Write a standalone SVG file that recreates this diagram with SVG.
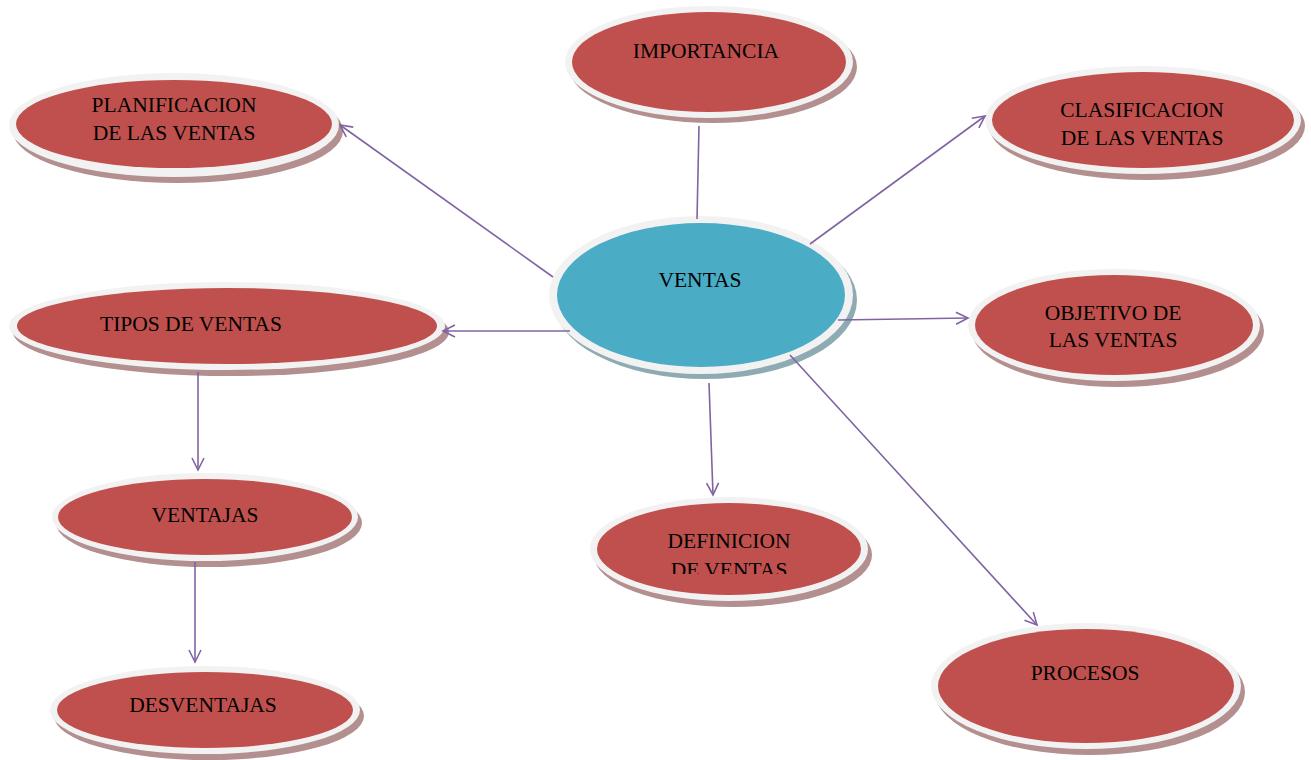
<svg xmlns="http://www.w3.org/2000/svg" width="1311" height="760" viewBox="0 0 1311 760">
<style>
.shr{fill:#b38f8f}
.shb{fill:#8eabb3}
.ring{fill:#f2f2f2}
.red{fill:#c0504d}
.blue{fill:#4bacc6}
.t{font-family:"Liberation Serif","Times New Roman",serif;font-size:21.5px;fill:#000;text-anchor:middle}
.c{stroke:#8064a2;stroke-width:1.6;fill:none}
</style>
<defs>
<marker id="arr" markerUnits="userSpaceOnUse" markerWidth="16" markerHeight="16" refX="13" refY="7" orient="auto">
<path d="M1,1 L13,7 L1,13" fill="none" stroke="#8064a2" stroke-width="1.6"/>
</marker>
<clipPath id="clipDef"><rect x="590" y="500" width="280" height="74"/></clipPath>
</defs>
<rect width="1311" height="760" fill="#fff"/>

<g id="importancia">
<ellipse class="shr" cx="713" cy="67" rx="144" ry="56"/>
<ellipse class="ring" cx="709" cy="62" rx="144" ry="56"/>
<ellipse class="red" cx="709" cy="62" rx="137" ry="50"/>
<text class="t" x="706" y="58">IMPORTANCIA</text>
</g>

<g id="planificacion">
<ellipse class="shr" cx="178" cy="131" rx="165" ry="52"/>
<ellipse class="ring" cx="174" cy="125" rx="165" ry="52"/>
<ellipse class="red" cx="174" cy="124" rx="158" ry="44"/>
<text class="t" x="174" y="112">PLANIFICACION</text>
<text class="t" x="174" y="140">DE LAS VENTAS</text>
</g>

<g id="clasificacion">
<ellipse class="shr" cx="1147" cy="126" rx="158" ry="54"/>
<ellipse class="ring" cx="1143" cy="120" rx="158" ry="54"/>
<ellipse class="red" cx="1143" cy="120" rx="151" ry="48"/>
<text class="t" x="1142" y="117">CLASIFICACION</text>
<text class="t" x="1142" y="145">DE LAS VENTAS</text>
</g>

<g id="ventas">
<ellipse class="shb" cx="705" cy="300" rx="152" ry="79"/>
<ellipse class="ring" cx="701" cy="295" rx="152" ry="79"/>
<ellipse class="blue" cx="701" cy="295" rx="144" ry="72"/>
<text class="t" x="700" y="287">VENTAS</text>
</g>

<g id="tipos">
<ellipse class="shr" cx="231" cy="332" rx="218" ry="44"/>
<ellipse class="ring" cx="227" cy="326" rx="218" ry="44"/>
<ellipse class="red" cx="227" cy="326" rx="210" ry="38"/>
<text class="t" x="100" y="331" style="text-anchor:start">TIPOS DE VENTAS</text>
</g>

<g id="objetivo">
<ellipse class="shr" cx="1118" cy="331" rx="146" ry="56"/>
<ellipse class="ring" cx="1114" cy="325" rx="146" ry="56"/>
<ellipse class="red" cx="1114" cy="325" rx="139" ry="50"/>
<text class="t" x="1113" y="320">OBJETIVO DE</text>
<text class="t" x="1113" y="347">LAS VENTAS</text>
</g>

<g id="ventajas">
<ellipse class="shr" cx="209" cy="523" rx="153" ry="44"/>
<ellipse class="ring" cx="205" cy="517" rx="153" ry="44"/>
<ellipse class="red" cx="205" cy="517" rx="147" ry="38"/>
<text class="t" x="205" y="522">VENTAJAS</text>
</g>

<g id="definicion">
<ellipse class="shr" cx="733" cy="555" rx="139" ry="52"/>
<ellipse class="ring" cx="729" cy="549" rx="139" ry="52"/>
<ellipse class="red" cx="729" cy="549" rx="132" ry="46"/>
<g clip-path="url(#clipDef)">
<text class="t" x="729" y="548">DEFINICION</text>
<text class="t" x="729" y="577">DE VENTAS</text>
</g>
</g>

<g id="procesos">
<ellipse class="shr" cx="1090" cy="692" rx="155" ry="63"/>
<ellipse class="ring" cx="1086" cy="686" rx="155" ry="63"/>
<ellipse class="red" cx="1086" cy="686" rx="148" ry="57"/>
<text class="t" x="1085" y="680">PROCESOS</text>
</g>

<g id="desventajas">
<ellipse class="shr" cx="209" cy="716" rx="155" ry="44"/>
<ellipse class="ring" cx="205" cy="710" rx="155" ry="44"/>
<ellipse class="red" cx="205" cy="710" rx="148" ry="38"/>
<text class="t" x="203" y="712">DESVENTAJAS</text>
</g>

<g id="connectors">
<line class="c" x1="553" y1="277" x2="340" y2="125" marker-end="url(#arr)"/>
<line class="c" x1="699" y1="126" x2="697" y2="219"/>
<line class="c" x1="810" y1="244" x2="985" y2="116" marker-end="url(#arr)"/>
<line class="c" x1="570" y1="331" x2="443" y2="331" marker-end="url(#arr)"/>
<line class="c" x1="838" y1="320" x2="968" y2="318" marker-end="url(#arr)"/>
<line class="c" x1="709" y1="383" x2="713" y2="495" marker-end="url(#arr)"/>
<line class="c" x1="790" y1="355" x2="1037" y2="625" marker-end="url(#arr)"/>
<line class="c" x1="198" y1="372" x2="198" y2="470" marker-end="url(#arr)"/>
<line class="c" x1="195" y1="562" x2="195" y2="662" marker-end="url(#arr)"/>
</g>
</svg>
